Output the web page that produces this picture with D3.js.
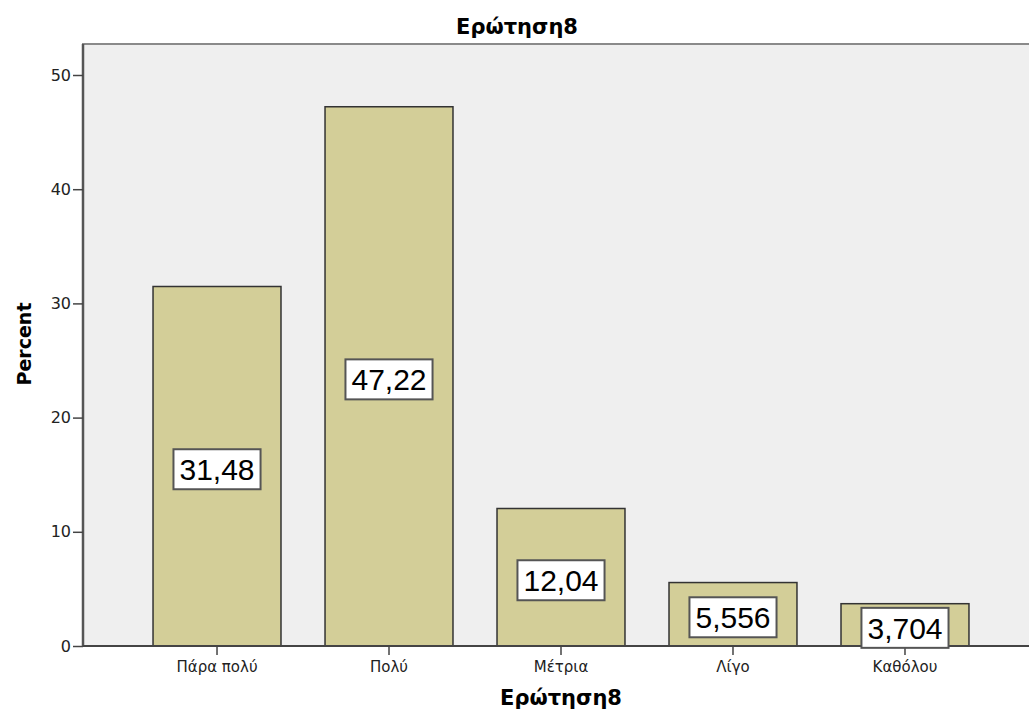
<!DOCTYPE html>
<html>
<head>
<meta charset="utf-8">
<script src="https://cdn.jsdelivr.net/npm/d3@7/dist/d3.min.js"></script>
<style>
  html, body { margin: 0; padding: 0; background: #fff; }
  svg { display: block; font-family: "DejaVu Sans", Verdana, sans-serif; }
</style>
</head>
<body>
<svg id="chart" width="1029" height="713"></svg>
<script>
// Responses to question 8, in percent
const categories = ["Πάρα πολύ", "Πολύ", "Μέτρια", "Λίγο", "Καθόλου"];
const percents = [31.48, 47.22, 12.04, 5.556, 3.704];
const yTicks = [0, 10, 20, 30, 40, 50];
const chartTitle = "Ερώτηση8";
const xTitle = "Ερώτηση8";
const yTitle = "Percent";

const svg = d3.select("#chart");
const plot = { left: 83, top: 44, right: 1045, bottom: 646 };
const tickFont = "'DejaVu Sans', Verdana, sans-serif";

const x = d3.scaleBand()
  .domain(categories)
  .range([109, 1013])
  .paddingInner(0.256)
  .paddingOuter(0.256);

const y = d3.scaleLinear()
  .domain([0, 50])
  .range([plot.bottom, 75]);

// Greek-style number labels: comma as decimal separator, 4 significant digits
const grLocale = d3.formatLocale({ decimal: ",", thousands: ".", grouping: [3], currency: ["", "€"] });
const fmt = grLocale.format(".4");

// plot background
svg.append("rect")
  .attr("x", plot.left).attr("y", plot.top)
  .attr("width", plot.right - plot.left).attr("height", plot.bottom - plot.top)
  .attr("fill", "#efefef")
  .attr("stroke", "#8a8a8a")
  .attr("stroke-width", 2);

// bars
svg.append("g").selectAll("rect")
  .data(categories)
  .join("rect")
  .attr("x", d => x(d))
  .attr("y", (d, i) => y(percents[i]))
  .attr("width", x.bandwidth())
  .attr("height", (d, i) => y(0) - y(percents[i]))
  .attr("fill", "#d3ce98")
  .attr("stroke", "#333")
  .attr("stroke-width", 1.5);

// y axis
const yAxis = svg.append("g")
  .attr("transform", `translate(${plot.left},0)`)
  .call(d3.axisLeft(y).tickValues(yTicks).tickSize(10).tickPadding(2).tickFormat(d3.format("d")));
yAxis.select(".domain").attr("stroke", "#555").attr("stroke-width", 2.5)
  .attr("d", `M0,${plot.top}V${plot.bottom}`);
yAxis.selectAll(".tick line").attr("stroke", "#444").attr("stroke-width", 1.5);
yAxis.selectAll(".tick text").attr("font-size", 16).attr("fill", "#222")
  .attr("font-family", tickFont);

// x axis
const xAxis = svg.append("g")
  .attr("transform", `translate(0,${plot.bottom})`)
  .call(d3.axisBottom(x).tickSize(9).tickPadding(6));
xAxis.select(".domain").attr("stroke", "#444").attr("stroke-width", 2)
  .attr("d", `M${plot.left},0H${plot.right}`);
xAxis.selectAll(".tick line").attr("stroke", "#444").attr("stroke-width", 1.5);
xAxis.selectAll(".tick text").attr("font-size", 15).attr("fill", "#222")
  .attr("font-family", tickFont);

// value labels inside each bar
const labels = svg.append("g").selectAll("g")
  .data(categories)
  .join("g")
  .attr("transform", (d, i) => `translate(${x(d) + x.bandwidth() / 2},${(y(0) + y(percents[i])) / 2 + 3})`);

labels.append("text")
  .attr("text-anchor", "middle")
  .attr("dy", "0.36em")
  .attr("font-family", "'Liberation Sans', Arial, sans-serif")
  .attr("font-size", 30)
  .attr("fill", "#000")
  .text((d, i) => fmt(percents[i]));

labels.each(function () {
  const g = d3.select(this);
  const bb = g.select("text").node().getBBox();
  g.insert("rect", "text")
    .attr("x", -(bb.width / 2 + 6))
    .attr("y", -20)
    .attr("width", bb.width + 12)
    .attr("height", 40)
    .attr("fill", "#fff")
    .attr("stroke", "#555")
    .attr("stroke-width", 2);
});

// titles
svg.append("text")
  .attr("x", 517).attr("y", 34)
  .attr("text-anchor", "middle")
  .attr("font-size", 21).attr("font-weight", "bold")
  .text(chartTitle);

svg.append("text")
  .attr("x", 561).attr("y", 705)
  .attr("text-anchor", "middle")
  .attr("font-size", 21).attr("font-weight", "bold")
  .text(xTitle);

svg.append("text")
  .attr("transform", "translate(31,344) rotate(-90)")
  .attr("text-anchor", "middle")
  .attr("font-size", 19).attr("font-weight", "bold")
  .text(yTitle);
</script>
</body>
</html>
